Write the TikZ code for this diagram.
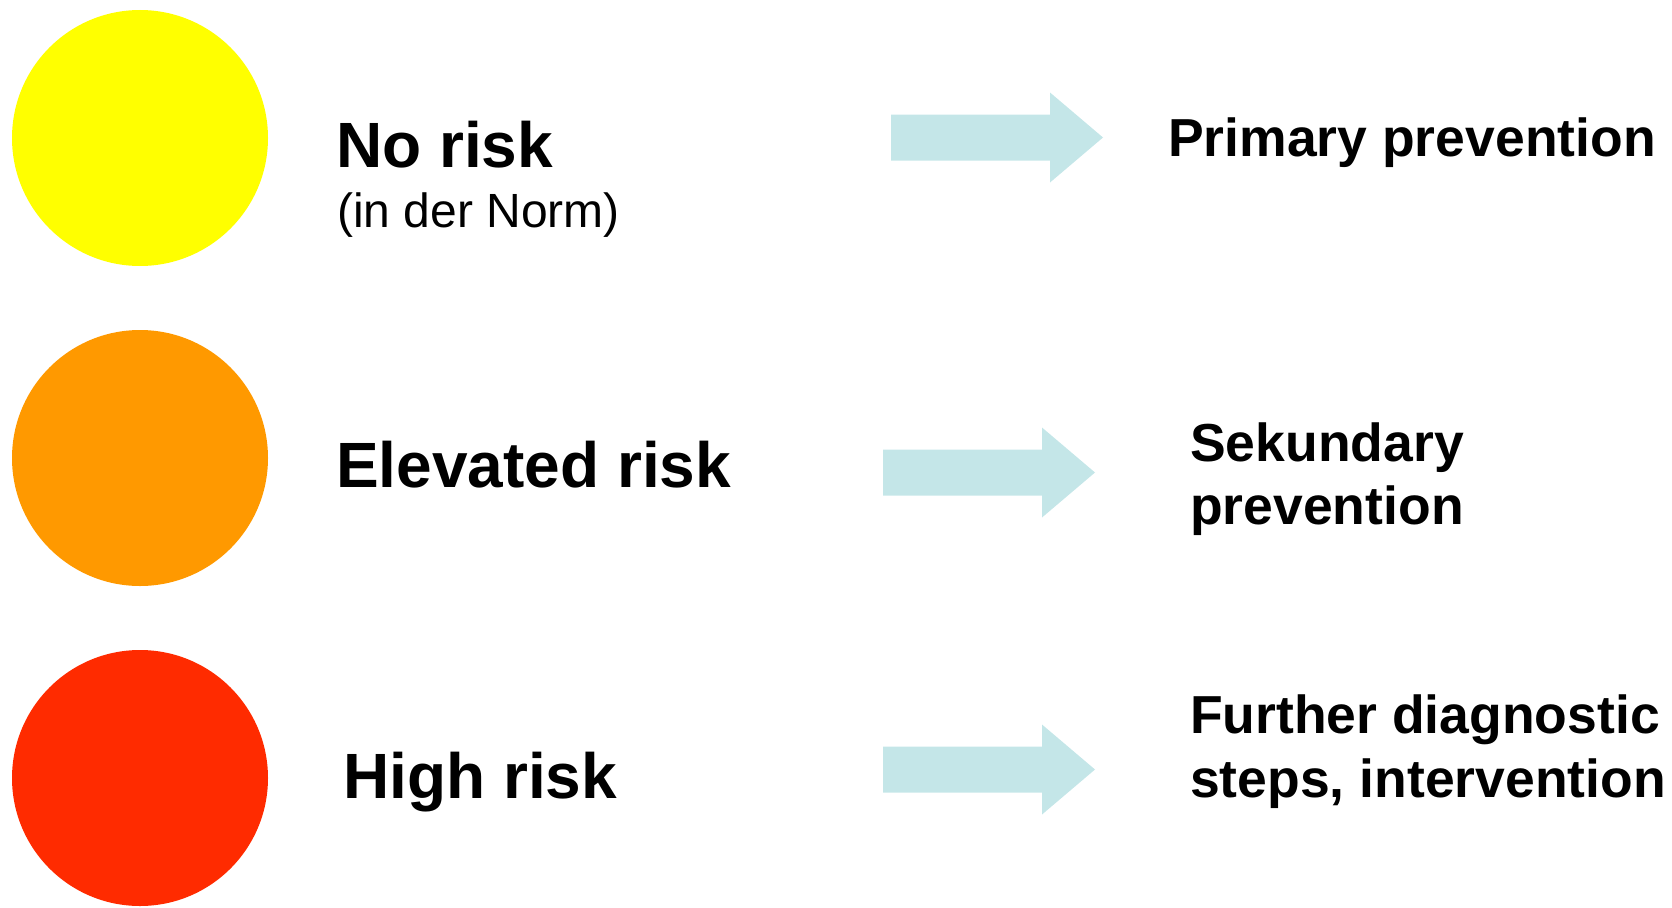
\documentclass[tikz,border=0pt]{standalone}
\usepackage{fontspec}
\setmainfont{Liberation Sans}
\definecolor{lightyellow}{HTML}{FFFF00}
\definecolor{riskorange}{HTML}{FF9900}
\definecolor{riskred}{HTML}{FF2B00}
\definecolor{arrowblue}{HTML}{C4E6E8}
\begin{document}
\begin{tikzpicture}[x=1pt,y=-1pt,
  riskdot/.style={circle,inner sep=0pt,minimum size=256pt,fill=#1},
  biglabel/.style={anchor=base west,inner sep=0pt,font=\fontsize{64}{64}\selectfont\bfseries},
  sublabel/.style={anchor=base west,inner sep=0pt,font=\fontsize{48}{48}\selectfont},
  actlabel/.style={anchor=base west,inner sep=0pt,font=\fontsize{53.5}{53.5}\selectfont\bfseries},
  blockarrow/.pic={\fill[arrowblue] (0,-23) -- (159,-23) -- (159,-45) -- (212,0)
      -- (159,45) -- (159,23) -- (0,23) -- cycle;}]
  \useasboundingbox (0,0) rectangle (1672,907);

  % traffic-light dots
  \node[riskdot=lightyellow] (dotlow) at (140,138) {};
  \node[riskdot=riskorange]  (dotmid) at (140,458) {};
  \node[riskdot=riskred]     (dothigh) at (140,778) {};

  % risk levels
  \node[biglabel] (nrisk) at (336,167) {No risk};
  \node[sublabel] (nnorm) at (337,227) {(in der Norm)};
  \node[biglabel] (erisk) at (336,487) {Elevated risk};
  \node[biglabel] (hrisk) at (343,798) {High risk};

  % block arrows
  \pic at (891,137.5) {blockarrow};
  \pic at (883,472.5) {blockarrow};
  \pic at (883,769.5) {blockarrow};

  % consequences
  \node[actlabel] (prim) at (1168,156) {Primary prevention};
  \node[actlabel] (sek1) at (1190,461) {Sekundary};
  \node[actlabel] (sek2) at (1190,524) {prevention};
  \node[actlabel] (fur1) at (1190,733) {Further diagnostic};
  \node[actlabel] (fur2) at (1190,797) {steps, intervention};
\end{tikzpicture}
\end{document}
